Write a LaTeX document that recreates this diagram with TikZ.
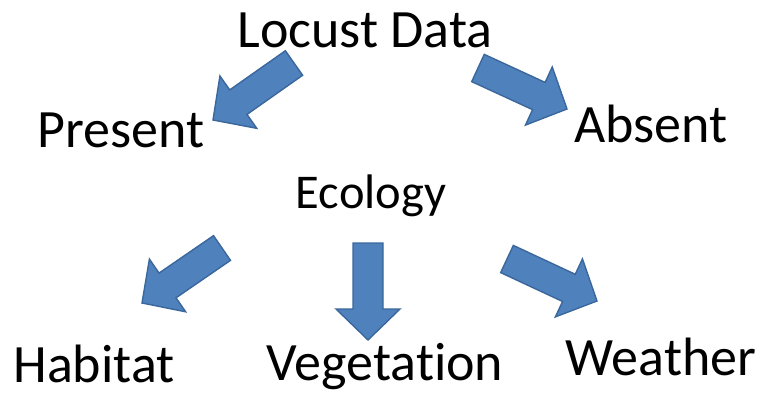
\documentclass[tikz,border=0pt]{standalone}
\usepackage{fontspec}
\setmainfont[Ligatures=NoCommon]{Carlito}
\usetikzlibrary{calc}

% block arrow from tail coordinate #1 to tip coordinate #2
\newcommand{\blockarrow}[2]{%
  \coordinate (neck) at ($(#2)!\headlen!(#1)$);
  \draw[blockarrow]
    ($(#1)!\shafthalf!90:(#2)$) --
    ($(neck)!\shafthalf!90:(#2)$) --
    ($(neck)!\headhalf!90:(#2)$) --
    (#2) --
    ($(neck)!\headhalf!-90:(#2)$) --
    ($(neck)!\shafthalf!-90:(#2)$) --
    ($(#1)!\shafthalf!-90:(#2)$) -- cycle;
}
\newcommand{\headlen}{31pt}
\newcommand{\shafthalf}{15pt}
\newcommand{\headhalf}{32pt}

\definecolor{arrowfill}{HTML}{4F81BD}
\definecolor{arrowline}{HTML}{3A679C}

\begin{document}
\begin{tikzpicture}[x=1pt,y=-1pt,
  label/.style={anchor=base,inner sep=0pt,font=\fontsize{54}{60}\selectfont},
  smalllabel/.style={label,font=\fontsize{48.5}{56}\selectfont},
  blockarrow/.style={fill=arrowfill,draw=arrowline,line width=1.4pt,line join=miter}]
  \useasboundingbox (0,0) rectangle (761,394);

  % labels
  \node[label] (locust) at (365,47) {Locust Data};
  \node[label] (present) at (121,147) {Present};
  \node[label] (absent) at (651,142) {Absent};
  \node[smalllabel] (ecology) at (371,208) {Ecology};
  \node[label] (habitat) at (94,382) {Habitat};
  \node[label] (vegetation) at (385,380) {Vegetation};
  \node[label] (weather) at (661,375) {Weather};

  % arrow ends
  \coordinate (presentTail) at (294,63);
  \coordinate (presentTip) at (213,120);
  \coordinate (absentTail) at (478,68);
  \coordinate (absentTip) at (567,109);
  \coordinate (habitatTail) at (222,248);
  \coordinate (habitatTip) at (142,303);
  \coordinate (vegetationTail) at (368,243);
  \coordinate (vegetationTip) at (368,340);
  \coordinate (weatherTail) at (507,259);
  \coordinate (weatherTip) at (597,301);

  \blockarrow{presentTail}{presentTip}
  \blockarrow{absentTail}{absentTip}
  \blockarrow{habitatTail}{habitatTip}
  \blockarrow{vegetationTail}{vegetationTip}
  \blockarrow{weatherTail}{weatherTip}
\end{tikzpicture}
\end{document}
